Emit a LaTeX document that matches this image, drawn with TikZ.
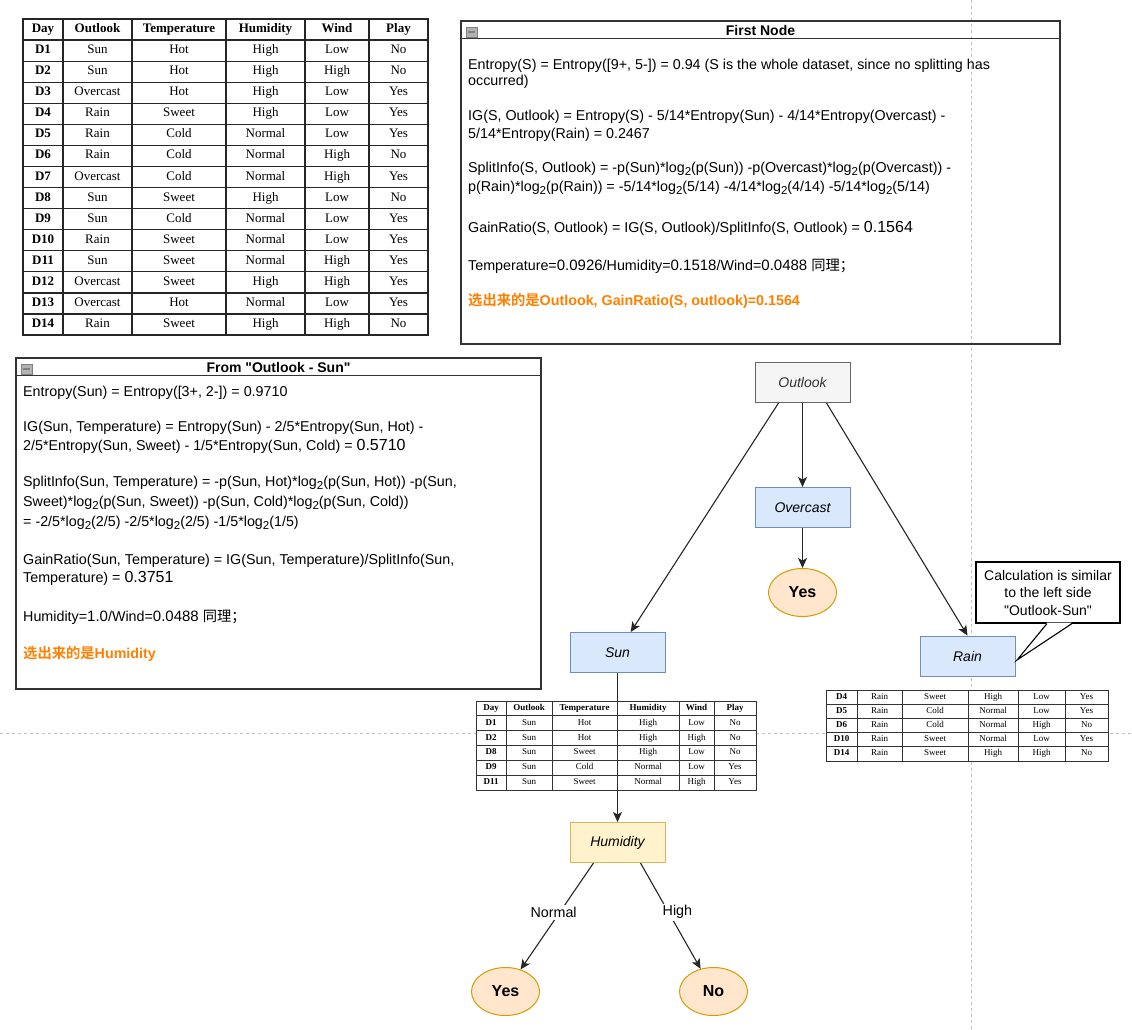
\documentclass[tikz,border=0pt]{standalone}
\usepackage{fontspec}
\setmainfont{Liberation Sans}[Ligatures=TeXOff]
\newfontfamily\tabfont{Liberation Serif}
\newfontfamily\cjk{Noto Sans CJK SC}[BoldFont={Noto Sans CJK SC Bold}]
\usetikzlibrary{positioning,shapes.geometric,arrows.meta}
\definecolor{greyfill}{HTML}{F5F5F5}
\definecolor{greydraw}{HTML}{666666}
\definecolor{greytext}{HTML}{333333}
\definecolor{bluefill}{HTML}{DAE8FC}
\definecolor{bluedraw}{HTML}{6C8EBF}
\definecolor{yellowfill}{HTML}{FFF2CC}
\definecolor{yellowdraw}{HTML}{D6B656}
\definecolor{leaffill}{HTML}{FFE6CC}
\definecolor{leafdraw}{HTML}{D79B00}
\definecolor{pickorange}{HTML}{FF8000}
\newcommand{\ltwo}{\raisebox{-3.5pt}{\fontsize{11.5}{12}\selectfont 2}}
\newcommand{\bignr}[1]{{\fontsize{16}{16}\selectfont #1}}
\newcommand{\midnr}[1]{{\fontsize{15}{15}\selectfont #1}}

\begin{document}
\begin{tikzpicture}[x=1pt,y=-1pt,
  every node/.style={font=\fontsize{14.3}{17}\selectfont},
  guide/.style={draw=black!25,dash pattern=on 3pt off 3pt,line width=0.8pt},
  panel/.style={draw=black!80,line width=1.3pt,inner sep=0pt},
  paneltitle/.style={font=\bfseries\fontsize{14}{17}\selectfont},
  panelicon/.style={draw=black!50,fill=black!30,minimum width=11,minimum height=10,inner sep=0pt,
    path picture={\draw[line width=1.5pt] ([xshift=2pt]path picture bounding box.west) -- ([xshift=-2pt]path picture bounding box.east);}},
  ln/.style={anchor=base west,inner sep=0pt},
  pick/.style={ln,text=pickorange,font=\bfseries\fontsize{14.3}{17}\selectfont},
  greybox/.style={draw=greydraw,fill=greyfill,text=greytext,line width=1pt,minimum width=95,minimum height=40,font=\itshape\fontsize{14}{17}\selectfont},
  bluebox/.style={greybox,draw=bluedraw,fill=bluefill,text=black},
  yellowbox/.style={greybox,draw=yellowdraw,fill=yellowfill,text=black},
  leaf/.style={ellipse,draw=leafdraw,fill=leaffill,line width=1pt,minimum width=68,minimum height=48,font=\bfseries\fontsize{16}{19}\selectfont},
  arr/.style={-{Stealth[length=10pt,width=9pt,inset=2.5pt]},line width=1.1pt,draw=black!85},
  lbl/.style={fill=white,inner sep=2pt},
  callout/.style={draw,line width=1.1pt,fill=white,align=center,minimum width=144,minimum height=61,inner sep=0pt,font=\fontsize{14}{17.5}\selectfont},
  bigcell/.style={inner sep=0pt,text height=9pt,text depth=3pt,font=\tabfont\fontsize{13}{13}\selectfont},
  bighead/.style={bigcell,font=\tabfont\bfseries\fontsize{13}{13}\selectfont},
  smallcell/.style={inner sep=0pt,text height=6pt,text depth=2pt,font=\tabfont\fontsize{9}{9}\selectfont},
  smallhead/.style={smallcell,font=\tabfont\bfseries\fontsize{9}{9}\selectfont},
  tabline/.style={draw=black!85,line width=1.2pt},
  smallline/.style={draw=black!80,line width=0.9pt}]
  \useasboundingbox (0,0) rectangle (1132,1029);

  % page guides
  \draw[guide] (971.5,0) -- (971.5,1029);
  \draw[guide] (0,733) -- (1132,733);

  % data table
  \fill[white] (23,19) rectangle (428,335);
  \foreach \c/\x/\txt in {1/43/Day,2/97.5/Outlook,3/179/Temperature,4/265.5/Humidity,5/337/Wind,6/398.5/Play}
    \node[bighead] (big-0-\c) at (\x,29.5) {\txt};
  \foreach \d/\o/\t/\h/\w/\p [count=\r] in {D1/Sun/Hot/High/Low/No,D2/Sun/Hot/High/High/No,
      D3/Overcast/Hot/High/Low/Yes,D4/Rain/Sweet/High/Low/Yes,D5/Rain/Cold/Normal/Low/Yes,
      D6/Rain/Cold/Normal/High/No,D7/Overcast/Cold/Normal/High/Yes,D8/Sun/Sweet/High/Low/No,
      D9/Sun/Cold/Normal/Low/Yes,D10/Rain/Sweet/Normal/Low/Yes,D11/Sun/Sweet/Normal/High/Yes,
      D12/Overcast/Sweet/High/High/Yes,D13/Overcast/Hot/Normal/Low/Yes,D14/Rain/Sweet/High/High/No} {
    \pgfmathsetmacro\yc{19+21.07*(\r+.5)}
    \node[bighead] (big-\r-1) at (43,\yc) {\d};
    \node[bigcell] (big-\r-2) at (97.5,\yc) {\o};
    \node[bigcell] (big-\r-3) at (179,\yc) {\t};
    \node[bigcell] (big-\r-4) at (265.5,\yc) {\h};
    \node[bigcell] (big-\r-5) at (337,\yc) {\w};
    \node[bigcell] (big-\r-6) at (398.5,\yc) {\p};
  }
  \draw[tabline] (23,19) rectangle (428,335);
  \foreach \x in {63,132,226,305,369}
    \draw[tabline] (\x,19) -- (\x,335);
  \foreach \r in {1,...,14}
    \draw[tabline] (23,{19+21.07*\r}) -- (428,{19+21.07*\r});

  % first node panel
  \node[panel,minimum width=599,minimum height=323] (firstnode) at (760.5,182.5) {};
  \draw[panel] ([yshift=-18pt]firstnode.north west) -- ([yshift=-18pt]firstnode.north east);
  \node[panelicon] (fnicon) at (471.5,32) {};
  \node[paneltitle] (fntitle) at (760.5,30) {First Node};
  \node[ln] (fn1) at (468,69) {Entropy(S) = Entropy([9+, 5-]) = 0.94 (S is the whole dataset, since no splitting has};
  \node[ln] (fn2) at (468,85) {occurred)};
  \node[ln] (fn3) at (468,120) {IG(S, Outlook) = Entropy(S) - 5/14*Entropy(Sun) - 4/14*Entropy(Overcast) -};
  \node[ln] (fn4) at (468,138) {5/14*Entropy(Rain) = 0.2467};
  \node[ln] (fn5) at (468,172) {SplitInfo(S, Outlook) = -p(Sun)*log\ltwo(p(Sun)) -p(Overcast)*log\ltwo(p(Overcast)) -};
  \node[ln] (fn6) at (468,191) {p(Rain)*log\ltwo(p(Rain)) = -5/14*log\ltwo(5/14) -4/14*log\ltwo(4/14) -5/14*log\ltwo(5/14)};
  \node[ln] (fn7) at (468,232) {GainRatio(S, Outlook) = IG(S, Outlook)/SplitInfo(S, Outlook) = \bignr{0.1564}};
  \node[ln] (fn8) at (468,270) {Temperature=\midnr{0.0926}/Humidity=\midnr{0.1518}/Wind=\midnr{0.0488} {\cjk 同理；}};
  \node[pick] (fn9) at (468,305) {{\cjk 选出来的是}Outlook, GainRatio(S, outlook)=0.1564};

  % outlook - sun panel
  \node[panel,minimum width=525,minimum height=331] (sunpanel) at (278.5,523.5) {};
  \draw[panel] ([yshift=-18pt]sunpanel.north west) -- ([yshift=-18pt]sunpanel.north east);
  \node[panelicon] (spicon) at (26.5,369) {};
  \node[paneltitle] (sptitle) at (278.5,367) {From "Outlook - Sun"};
  \node[ln] (sn1) at (23,396) {Entropy(Sun) = Entropy([3+, 2-]) = 0.9710};
  \node[ln] (sn2) at (23,431) {IG(Sun, Temperature) = Entropy(Sun) - 2/5*Entropy(Sun, Hot) -};
  \node[ln] (sn3) at (23,450) {2/5*Entropy(Sun, Sweet) - 1/5*Entropy(Sun, Cold) = \bignr{0.5710}};
  \node[ln] (sn4) at (23,486) {SplitInfo(Sun, Temperature) = -p(Sun, Hot)*log\ltwo(p(Sun, Hot)) -p(Sun,};
  \node[ln] (sn5) at (23,506) {Sweet)*log\ltwo(p(Sun, Sweet)) -p(Sun, Cold)*log\ltwo(p(Sun, Cold))};
  \node[ln] (sn6) at (23,526) {= -2/5*log\ltwo(2/5) -2/5*log\ltwo(2/5) -1/5*log\ltwo(1/5)};
  \node[ln] (sn7) at (23,564) {GainRatio(Sun, Temperature) = IG(Sun, Temperature)/SplitInfo(Sun,};
  \node[ln] (sn8) at (23,582) {Temperature) = \bignr{0.3751}};
  \node[ln] (sn9) at (23,621) {Humidity=\midnr{1.0}/Wind=\midnr{0.0488} {\cjk 同理；}};
  \node[pick] (sn10) at (23,658) {{\cjk 选出来的是}Humidity};

  % decision tree
  \node[greybox] (outlook) at (802.5,382.5) {Outlook};
  \node[bluebox] (overcast) [below=84pt of outlook] {Overcast};
  \node[leaf] (yes1) [below=40pt of overcast] {Yes};
  \node[bluebox] (sun) at (617.5,652.5) {Sun};
  \node[bluebox] (rain) at (967.5,656) {Rain};
  \node[yellowbox] (humidity) [below=149pt of sun] {Humidity};
  \node[leaf] (yes2) at (505.5,991.5) {Yes};
  \node[leaf] (no) at (713.5,991.5) {No};

  \draw[arr] ([xshift=-24pt]outlook.south) -- (sun);
  \draw[arr] (outlook) -- (overcast);
  \draw[arr] ([xshift=24pt]outlook.south) -- (rain.north);
  \draw[arr] (overcast) -- (yes1);
  \draw[arr] (sun) -- (humidity);
  \draw[arr] ([xshift=-24pt]humidity.south) -- node[lbl,pos=.465,xshift=-6pt] (normal) {Normal} (yes2);
  \draw[arr] ([xshift=23pt]humidity.south) -- node[lbl,pos=.465,xshift=9pt] (high) {High} (no);

  % sun subset
  \fill[white] (476,701) rectangle (756,790);
  \foreach \c/\x/\txt in {1/491/Day,2/529/Outlook,3/584.5/Temperature,4/648/Humidity,5/696.5/Wind,6/735/Play}
    \node[smallhead] (sunt-0-\c) at (\x,708.4) {\txt};
  \foreach \d/\o/\t/\h/\w/\p [count=\r] in {D1/Sun/Hot/High/Low/No,D2/Sun/Hot/High/High/No,
      D8/Sun/Sweet/High/Low/No,D9/Sun/Cold/Normal/Low/Yes,D11/Sun/Sweet/Normal/High/Yes} {
    \pgfmathsetmacro\yc{701+14.83*(\r+.5)}
    \node[smallhead] (sunt-\r-1) at (491,\yc) {\d};
    \node[smallcell] (sunt-\r-2) at (529,\yc) {\o};
    \node[smallcell] (sunt-\r-3) at (584.5,\yc) {\t};
    \node[smallcell] (sunt-\r-4) at (648,\yc) {\h};
    \node[smallcell] (sunt-\r-5) at (696.5,\yc) {\w};
    \node[smallcell] (sunt-\r-6) at (735,\yc) {\p};
  }
  \draw[smallline] (476,701) rectangle (756,790);
  \foreach \x in {506,552,617,679,714}
    \draw[smallline] (\x,701) -- (\x,790);
  \foreach \r in {1,...,5}
    \draw[smallline] (476,{701+14.83*\r}) -- (756,{701+14.83*\r});

  % rain subset
  \fill[white] (826,690) rectangle (1108,761);
  \foreach \d/\o/\t/\h/\w/\p [count=\r] in {D4/Rain/Sweet/High/Low/Yes,D5/Rain/Cold/Normal/Low/Yes,
      D6/Rain/Cold/Normal/High/No,D10/Rain/Sweet/Normal/Low/Yes,D14/Rain/Sweet/High/High/No} {
    \pgfmathsetmacro\yc{690+14.2*(\r-.5)}
    \node[smallhead] (raint-\r-1) at (841.5,\yc) {\d};
    \node[smallcell] (raint-\r-2) at (879.5,\yc) {\o};
    \node[smallcell] (raint-\r-3) at (935,\yc) {\t};
    \node[smallcell] (raint-\r-4) at (993,\yc) {\h};
    \node[smallcell] (raint-\r-5) at (1041.5,\yc) {\w};
    \node[smallcell] (raint-\r-6) at (1086.5,\yc) {\p};
  }
  \draw[smallline] (826,690) rectangle (1108,761);
  \foreach \x in {857,902,968,1018,1065}
    \draw[smallline] (\x,690) -- (\x,761);
  \foreach \r in {1,...,4}
    \draw[smallline] (826,{690+14.2*\r}) -- (1108,{690+14.2*\r});

  % note on the rain branch
  \node[callout] (note) at (1048,592.5) {Calculation is similar\\to the left side\\"Outlook-Sun"};
  \coordinate (notetip) at (1017,660);
  \fill[white] ([xshift=-1pt,yshift=1pt]note.south) -- (notetip) -- ([xshift=24pt,yshift=1pt]note.south) -- cycle;
  \draw[line width=1.1pt] ([xshift=-1pt]note.south) -- (notetip) -- ([xshift=24pt]note.south);
\end{tikzpicture}
\end{document}
